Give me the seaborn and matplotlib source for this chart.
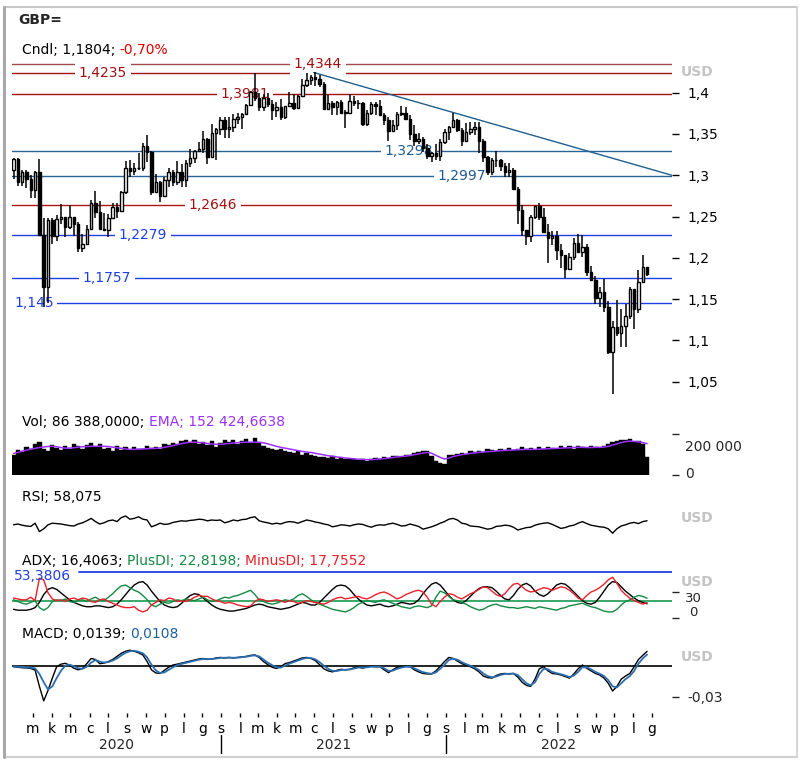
import numpy as np
import pandas as pd
import matplotlib
matplotlib.use("Agg")
import matplotlib.pyplot as plt
import matplotlib.dates as mdates
import matplotlib.transforms as mtransforms
from matplotlib.lines import Line2D
from matplotlib.ticker import FuncFormatter
import seaborn as sns

# ---------------- data (weekly candles, GBP/USD) ----------------
first_week = "2020-01-27"

opens = [1.3065,1.3195,1.2914,1.3045,1.2960,1.2820,1.3045,1.2280,1.1650,1.2460,
         1.2265,1.2475,1.2495,1.2370,1.2490,1.2405,1.2115,1.2165,1.2345,1.2670,
         1.2555,1.2345,1.2335,1.2485,1.2615,1.2565,1.2795,1.3085,1.3055,1.3090,
         1.3085,1.3350,1.3280,1.2795,1.2915,1.2745,1.2945,1.3045,1.2915,1.3035,
         1.2945,1.3150,1.3205,1.3300,1.3315,1.3440,1.3225,1.3515,1.3555,1.3670,
         1.3565,1.3590,1.3685,1.3700,1.3740,1.3850,1.4010,1.3930,1.3830,1.3930,
         1.3865,1.3785,1.3830,1.3700,1.3835,1.3880,1.3815,1.3965,1.4090,1.4155,
         1.4195,1.4160,1.4105,1.3805,1.3880,1.3825,1.3890,1.3760,1.3760,1.3905,
         1.3870,1.3870,1.3625,1.3760,1.3865,1.3840,1.3735,1.3675,1.3540,1.3615,
         1.3745,1.3755,1.3685,1.3500,1.3415,1.3440,1.3330,1.3235,1.3265,1.3235,
         1.3405,1.3530,1.3590,1.3675,1.3550,1.3410,1.3530,1.3565,1.3590,1.3410,
         1.3225,1.3035,1.3180,1.3180,1.3115,1.3035,1.3065,1.2835,1.2575,1.2335,
         1.2260,1.2490,1.2625,1.2490,1.2315,1.2245,1.2265,1.2095,1.2030,1.1870,
         1.2005,1.2175,1.2075,1.2130,1.1835,1.1735,1.1510,1.1590,1.1410,1.0855,
         1.1165,1.1090,1.1175,1.1300,1.1620,1.1380,1.1705,1.1890]
highs = [1.3210,1.3206,1.3070,1.3070,1.3000,1.3050,1.3200,1.2485,1.2485,1.2485,
         1.2520,1.2650,1.2500,1.2645,1.2500,1.2430,1.2295,1.2400,1.2700,1.2815,
         1.2690,1.2545,1.2535,1.2670,1.2670,1.2815,1.3170,1.3185,1.3145,1.3267,
         1.3395,1.3482,1.3290,1.3010,1.2935,1.2980,1.3085,1.3065,1.3175,1.3140,
         1.3180,1.3315,1.3310,1.3400,1.3540,1.3450,1.3625,1.3575,1.3705,1.3705,
         1.3710,1.3745,1.3760,1.3760,1.3865,1.4015,1.4240,1.4000,1.3990,1.4000,
         1.3915,1.3885,1.3920,1.3835,1.4010,1.3985,1.3970,1.4165,1.4235,1.4220,
         1.4250,1.4215,1.4135,1.3975,1.3900,1.3900,1.3910,1.3790,1.3985,1.3960,
         1.3910,1.3885,1.3785,1.3890,1.3890,1.3915,1.3750,1.3710,1.3675,1.3770,
         1.3835,1.3830,1.3730,1.3610,1.3515,1.3460,1.3375,1.3285,1.3375,1.3440,
         1.3560,1.3600,1.3750,1.3685,1.3575,1.3630,1.3640,1.3645,1.3645,1.3440,
         1.3235,1.3215,1.3300,1.3200,1.3150,1.3150,1.3090,1.2860,1.2640,1.2340,
         1.2525,1.2625,1.2665,1.2600,1.2405,1.2325,1.2330,1.2165,1.2030,1.2065,
         1.2245,1.2295,1.2275,1.2165,1.1900,1.1785,1.1645,1.1740,1.1475,1.1235,
         1.1495,1.1380,1.1440,1.1645,1.1625,1.1855,1.2030,1.1895]
lows = [1.2953,1.2872,1.2870,1.2848,1.2726,1.2725,1.2260,1.1410,1.1450,1.2165,
        1.2205,1.2405,1.2250,1.2355,1.2265,1.2075,1.2075,1.2160,1.2340,1.2480,
        1.2335,1.2330,1.2250,1.2480,1.2480,1.2560,1.2770,1.2980,1.3000,1.3060,
        1.3050,1.3165,1.2760,1.2790,1.2675,1.2740,1.2860,1.2865,1.2880,1.2855,
        1.2855,1.3105,1.3145,1.3280,1.3265,1.3135,1.3220,1.3190,1.3485,1.3450,
        1.3450,1.3520,1.3625,1.3565,1.3735,1.3840,1.3900,1.3780,1.3775,1.3825,
        1.3670,1.3700,1.3670,1.3680,1.3825,1.3795,1.3800,1.3960,1.4075,1.4090,
        1.4085,1.4075,1.3785,1.3790,1.3735,1.3730,1.3755,1.3570,1.3755,1.3840,
        1.3800,1.3600,1.3600,1.3725,1.3725,1.3735,1.3610,1.3410,1.3535,1.3545,
        1.3715,1.3665,1.3425,1.3355,1.3375,1.3280,1.3195,1.3160,1.3190,1.3170,
        1.3380,1.3430,1.3575,1.3520,1.3360,1.3400,1.3490,1.3485,1.3270,1.3160,
        1.3000,1.3000,1.3100,1.3050,1.2980,1.2975,1.2825,1.2410,1.2260,1.2155,
        1.2190,1.2475,1.2460,1.2310,1.1935,1.2160,1.1975,1.1875,1.1760,1.1865,
        1.1975,1.2065,1.2005,1.1785,1.1720,1.1445,1.1405,1.1350,1.0840,1.0350,
        1.1060,1.0925,1.0925,1.1255,1.1145,1.1335,1.1700,1.1780]
closes = [1.3195,1.2914,1.3045,1.2960,1.2820,1.3045,1.2280,1.1650,1.2460,1.2265,
          1.2475,1.2495,1.2370,1.2490,1.2405,1.2115,1.2165,1.2345,1.2670,1.2555,
          1.2345,1.2335,1.2485,1.2615,1.2565,1.2795,1.3085,1.3055,1.3090,1.3085,
          1.3350,1.3280,1.2795,1.2915,1.2745,1.2945,1.3045,1.2915,1.3035,1.2945,
          1.3150,1.3205,1.3300,1.3315,1.3440,1.3225,1.3515,1.3555,1.3670,1.3565,
          1.3590,1.3685,1.3700,1.3740,1.3850,1.4010,1.3930,1.3830,1.3930,1.3865,
          1.3785,1.3830,1.3700,1.3835,1.3880,1.3815,1.3965,1.4090,1.4155,1.4195,
          1.4160,1.4105,1.3805,1.3880,1.3825,1.3890,1.3760,1.3760,1.3905,1.3870,
          1.3870,1.3625,1.3760,1.3865,1.3840,1.3735,1.3675,1.3540,1.3615,1.3745,
          1.3755,1.3685,1.3500,1.3415,1.3440,1.3330,1.3235,1.3265,1.3235,1.3405,
          1.3530,1.3590,1.3675,1.3550,1.3410,1.3530,1.3565,1.3590,1.3410,1.3225,
          1.3035,1.3180,1.3180,1.3115,1.3035,1.3065,1.2835,1.2575,1.2335,1.2260,
          1.2490,1.2625,1.2490,1.2315,1.2245,1.2265,1.2095,1.2030,1.1870,1.2005,
          1.2175,1.2075,1.2130,1.1835,1.1735,1.1510,1.1590,1.1410,1.0855,1.1165,
          1.1090,1.1175,1.1300,1.1620,1.1380,1.1705,1.1890,1.1804]

vol_k = [98,120,112,135,128,150,160,125,118,145,
         130,122,140,128,150,142,125,148,155,135,
         150,128,132,118,140,122,135,120,138,128,
         125,140,132,138,128,150,145,158,152,165,
         170,158,172,150,160,148,165,135,158,170,
         160,172,150,168,175,158,180,155,140,132,
         125,120,128,118,112,108,115,100,108,98,
         95,90,88,85,92,80,84,78,76,80,
         72,80,70,78,82,76,90,85,92,95,
         88,100,96,108,112,115,118,95,70,60,
         56,96,100,104,108,102,115,112,118,110,
         125,120,118,128,122,130,124,126,135,128,
         130,124,135,128,138,132,126,140,130,142,
         128,140,138,130,142,136,132,140,152,160,
         165,172,170,178,160,168,150,86]
ema_k = [105,110,116,121,126,130,134,137,139,140,
         138,134,131,131,133,136,138,139,140,140,
         140,140,139,136,133,130,127,125,125,126,
         127,128,129,130,132,135,139,143,148,153,
         157,160,160,159,157,154,151,150,150,152,
         154,156,158,159,160,160,160,160,157,152,
         146,140,135,131,127,123,119,115,112,110,
         106,102,98,94,91,88,86,83,81,79,
         77,76,75,75,76,78,80,82,85,88,
         90,92,95,99,103,107,110,106,96,86,
         78,82,90,95,99,102,105,108,110,112,
         114,115,117,119,120,121,122,123,124,125,
         125,125,126,127,128,129,130,131,132,133,
         134,135,135,134,134,135,135,136,140,146,
         152,158,163,165,164,162,158,153]

rsi = [48,50,47,45,44,52,31,38,48,52,
       51,50,48,46,45,50,53,58,64,56,
       50,53,58,60,56,66,70,62,64,68,
       62,60,43,47,52,49,50,54,56,58,
       57,59,60,62,61,58,60,59,60,53,
       56,60,58,61,62,66,68,58,55,53,
       50,52,50,54,56,55,52,56,60,58,
       55,53,50,48,43,45,48,47,45,48,
       50,49,45,42,46,48,47,50,52,49,
       45,46,50,47,44,37,40,43,47,52,
       56,62,64,60,52,50,45,44,43,40,
       37,39,44,45,47,46,42,35,38,41,
       42,47,50,52,53,49,44,39,41,45,
       47,52,56,51,47,45,43,42,38,27,
       38,45,48,52,54,51,56,58.075]

adx = [10,9,9,9,10,12,18,27,33,35,
       33,29,25,21,18,16,14,13,13,14,
       14,13,12,13,16,21,27,33,38,41,
       42,38,31,25,19,15,13,12,13,17,
       22,26,28,27,23,19,15,12,10,9,
       8,8,9,10,11,13,15,16,15,13,
       12,11,10,11,12,14,16,18,17,15,
       15,18,23,28,33,37,38,37,33,27,
       22,18,15,14,15,16,14,13,14,16,
       18,17,16,17,21,28,34,39,41,38,
       32,26,21,18,17,20,25,30,34,36,
       36,35,31,26,22,21,26,33,38,40,
       37,31,27,25,28,33,38,40,39,35,
       30,25,20,17,16,18,24,31,38,42,
       41,36,31,27,23,20,18,16.4063]
plus_di = [21,19,17,16,18,20,12,9,12,19,
           21,20,22,19,18,20,21,19,22,24,
           21,20,24,28,33,37,38,35,32,30,
           26,21,15,13,16,18,17,19,21,20,
           22,21,20,22,24,21,19,20,22,24,
           23,25,26,28,30,32,27,21,19,17,
           16,17,19,21,20,22,26,28,25,21,
           18,16,14,12,10,9,8,7,9,12,
           16,18,20,19,18,20,21,19,17,15,
           13,12,11,13,14,13,12,14,24,31,
           29,25,21,20,18,16,13,11,9,10,
           13,15,16,14,13,12,12,11,12,13,
           12,11,13,12,11,10,9,11,12,14,
           15,16,17,15,13,12,10,8,7,7,
           10,15,19,21,24,26,25,22.8198]
minus_di = [23,22,21,21,24,20,46,44,29,22,
            20,21,19,22,23,21,23,22,19,18,
            21,22,19,17,15,13,12,12,13,9,
            7,9,15,18,21,20,23,22,19,20,
            19,21,24,26,25,25,22,20,19,17,
            18,17,15,14,13,14,19,22,21,19,
            20,21,20,18,20,19,17,18,20,19,
            18,17,16,18,21,23,24,22,23,24,
            25,23,22,24,27,29,30,28,25,22,
            24,27,29,31,32,30,24,16,13,19,
            24,28,27,24,22,25,28,30,33,36,
            35,31,27,25,28,34,39,40,36,32,
            30,31,33,35,34,32,34,36,35,32,
            28,23,21,26,30,32,35,39,44,47,
            40,32,27,23,20,18,16,17.7552]
adx_max_level = 53.3806
adx_base_level = 20

macd = [-0.0010,-0.0015,-0.0020,-0.0022,-0.0027,-0.0042,-0.0200,-0.0340,-0.0240,-0.0120,
        -0.0010,0.0015,0.0023,0.0005,-0.0025,-0.0040,-0.0027,0.0020,0.0070,0.0060,
        0.0020,0.0025,0.0040,0.0060,0.0090,0.0120,0.0140,0.0150,0.0140,0.0125,
        0.0104,0.0040,-0.0040,-0.0070,-0.0075,-0.0045,-0.0015,0.0007,0.0015,0.0025,
        0.0035,0.0045,0.0055,0.0065,0.0070,0.0060,0.0065,0.0075,0.0080,0.0075,
        0.0080,0.0075,0.0080,0.0085,0.0090,0.0100,0.0104,0.0080,0.0040,0.0010,
        -0.0015,-0.0027,-0.0010,0.0020,0.0030,0.0045,0.0060,0.0075,0.0080,0.0070,
        0.0050,0.0010,-0.0030,-0.0050,-0.0060,-0.0045,-0.0035,-0.0040,-0.0035,-0.0020,
        -0.0010,-0.0025,-0.0010,-0.0005,-0.0010,-0.0010,-0.0040,-0.0067,-0.0040,-0.0015,
        -0.0010,-0.0005,-0.0010,-0.0040,-0.0060,-0.0075,-0.0080,-0.0080,-0.0050,-0.0005,
        0.0040,0.0080,0.0070,0.0045,0.0020,0.0005,-0.0010,-0.0030,-0.0060,-0.0100,
        -0.0115,-0.0120,-0.0095,-0.0080,-0.0075,-0.0080,-0.0075,-0.0110,-0.0160,-0.0190,
        -0.0200,-0.0130,-0.0030,-0.0010,-0.0050,-0.0075,-0.0080,-0.0090,-0.0105,-0.0120,
        -0.0080,-0.0030,0.0007,-0.0025,-0.0050,-0.0075,-0.0090,-0.0120,-0.0170,-0.0245,
        -0.0200,-0.0130,-0.0100,-0.0075,-0.0010,0.0060,0.0100,0.0139]
macd_signal = [-0.0008,-0.0010,-0.0013,-0.0016,-0.0019,-0.0025,-0.0080,-0.0160,-0.0230,-0.0200,
               -0.0120,-0.0050,0.0000,0.0010,-0.0005,-0.0025,-0.0030,-0.0010,0.0030,0.0055,
               0.0040,0.0030,0.0035,0.0050,0.0070,0.0100,0.0125,0.0140,0.0145,0.0135,
               0.0120,0.0080,0.0010,-0.0045,-0.0070,-0.0065,-0.0040,-0.0015,0.0005,0.0018,
               0.0028,0.0038,0.0048,0.0058,0.0065,0.0065,0.0063,0.0070,0.0076,0.0077,
               0.0078,0.0077,0.0078,0.0082,0.0087,0.0095,0.0100,0.0090,0.0060,0.0030,
               0.0005,-0.0015,-0.0018,0.0000,0.0020,0.0035,0.0050,0.0065,0.0075,0.0074,
               0.0062,0.0035,0.0000,-0.0030,-0.0050,-0.0052,-0.0042,-0.0040,-0.0037,-0.0028,
               -0.0018,-0.0020,-0.0015,-0.0010,-0.0010,-0.0010,-0.0025,-0.0050,-0.0048,-0.0030,
               -0.0018,-0.0010,-0.0010,-0.0025,-0.0045,-0.0062,-0.0072,-0.0078,-0.0065,-0.0030,
               0.0010,0.0055,0.0068,0.0058,0.0035,0.0015,0.0000,-0.0018,-0.0042,-0.0075,
               -0.0100,-0.0112,-0.0105,-0.0090,-0.0080,-0.0078,-0.0076,-0.0090,-0.0130,-0.0170,
               -0.0190,-0.0160,-0.0080,-0.0030,-0.0035,-0.0060,-0.0072,-0.0082,-0.0095,-0.0110,
               -0.0095,-0.0060,-0.0015,-0.0015,-0.0035,-0.0060,-0.0078,-0.0100,-0.0140,-0.0200,
               -0.0210,-0.0170,-0.0130,-0.0100,-0.0050,0.0020,0.0070,0.0108]

levels = [1.4344, 1.4235, 1.3981, 1.3298, 1.2997, 1.2646, 1.2279, 1.1757, 1.145]
level_labels = ["1,4344", "1,4235", "1,3981", "1,3298", "1,2997", "1,2646", "1,2279", "1,1757", "1,145"]
trend_start = ("2021-05-31", 1.4245)
trend_end_value = 1.30

price_ticks = [1.05, 1.1, 1.15, 1.2, 1.25, 1.3, 1.35, 1.4]
month_letters = ["s", "l", "m", "k", "m", "c", "l", "s", "w", "p", "l", "g"]
years = ["2020", "2021", "2022"]

header_candle = [("Cndl; 1,1804;", "black"), ("-0,70%", "#e00000")]
header_vol = [("Vol; 86 388,0000;", "black"), ("EMA; 152 424,6638", "#9b30ff")]
header_rsi = [("RSI; 58,075", "black")]
header_adx = [("ADX; 16,4063;", "black"), ("PlusDI; 22,8198;", "#138a43"), ("MinusDI; 17,7552", "#e8202a")]
header_macd = [("MACD; 0,0139;", "black"), ("0,0108", "#1f5f9f")]

# ---------------- figure ----------------
sns.set_style("white")
plt.rcParams["font.family"] = ["DejaVu Sans"]

W, H = 800, 763
fig = plt.figure(figsize=(W / 100, H / 100), dpi=100)
fig.patch.set_facecolor("white")

X0 = pd.Timestamp("2020-01-27")
X1 = pd.Timestamp("2023-01-03")
PX_DAY = 660 / (X1 - X0).days


def px2num(px):
    return mdates.date2num((X0 + pd.Timedelta(days=(px - 12) / PX_DAY)).to_pydatetime())


XL = (mdates.date2num(X0.to_pydatetime()), mdates.date2num(X1.to_pydatetime()))


def add_ax(x0, y0, x1, y1):
    ax = fig.add_axes([x0 / W, 1 - y1 / H, (x1 - x0) / W, (y1 - y0) / H])
    ax.set_facecolor("none")
    for s in ax.spines.values():
        s.set_visible(False)
    ax.set_xlim(*XL)
    return ax


def ftext(x, y, s, **kw):
    return fig.text(x / W, 1 - y / H, s, **kw)


renderer = fig.canvas.get_renderer()


def pieces(x_px, y_px, parts, size=10):
    probe1 = fig.text(0, 0, "a a", fontsize=size)
    probe2 = fig.text(0, 0, "aa", fontsize=size)
    sp = probe1.get_window_extent(renderer).width - probe2.get_window_extent(renderer).width
    probe1.remove(); probe2.remove()
    x = x_px
    for s, c in parts:
        t = ftext(x, y_px, s, color=c, fontsize=size, ha="left", va="center")
        x += t.get_window_extent(renderer).width + sp


def usd(y):
    ftext(681, y, "USD", color="#c4c4c4", fontsize=10, fontweight="bold", ha="left", va="center")


dates = pd.date_range(first_week, periods=len(closes), freq="7D") + pd.Timedelta(hours=60)
xd = mdates.date2num(dates.to_pydatetime())
o, hi, lo, c = (np.array(a, dtype=float) for a in (opens, highs, lows, closes))

# ---- price panel ----
ax_p = add_ax(12, 58, 672, 402)
ax_p.set_ylim(1.02554, 1.44201)
lvl_line_col = ["#a34a4a", "#a01010", "#a01010", "#2a6496", "#2a6496", "#b01515", "#1e3ee6", "#1e3ee6", "#1e3ee6"]
lvl_text_col = ["#a01010", "#a01010", "#a01010", "#1f5a8f", "#1f5a8f", "#a01010", "#1e3ee6", "#1e3ee6", "#1e3ee6"]
lvl_label_px = [318, 103, 245, 409, 462, 213, 143, 107, 14]
lvl_label_ha = ["center"] * 8 + ["left"]
for lv, lab, lc, tc, lx, ha in zip(levels, level_labels, lvl_line_col, lvl_text_col, lvl_label_px, lvl_label_ha):
    ax_p.axhline(lv, color=lc, lw=1.0, zorder=1)
    ax_p.text(px2num(lx), lv, lab, color=tc, fontsize=10, ha=ha, va="center", zorder=2,
              bbox=dict(facecolor="white", edgecolor="none", pad=2.5))
ax_p.plot([mdates.date2num(pd.Timestamp(trend_start[0]).to_pydatetime()), XL[1]],
          [trend_start[1], trend_end_value], color="#1f5f8f", lw=1.0, zorder=2.5)

ax_p.vlines(xd, lo, hi, color="black", lw=1.1, zorder=3)
up = c >= o
ax_p.bar(xd, np.maximum(np.abs(c - o), 0.0006), bottom=np.minimum(o, c), width=4.0,
         color=np.where(up, "white", "black"), edgecolor="black", linewidth=1.0, zorder=4)

ax_p.yaxis.tick_right()
ax_p.set_yticks(price_ticks)
ax_p.yaxis.set_major_formatter(FuncFormatter(lambda v, p: f"{v:g}".replace(".", ",")))
ax_p.tick_params(axis="y", right=True, left=False, length=5, width=1, pad=6, labelsize=10, colors="black")
ax_p.set_xticks([])
usd(72)

# ---- volume panel ----
ax_v = add_ax(12, 428, 672, 475)
ax_v.bar(xd, vol_k, width=7, color="black", edgecolor="black", linewidth=0.3, zorder=2)
sns.lineplot(x=xd, y=ema_k, ax=ax_v, color="#9b30ff", linewidth=1.1, zorder=3)
ax_v.set_ylim(0, 229.3)
ax_v.set_xlim(*XL)
ax_v.yaxis.tick_right()
ax_v.set_yticks([0, 200])
ax_v.set_yticklabels(["", ""])
ax_v.tick_params(axis="y", right=True, left=False, length=5, width=1)
ax_v.set_xticks([])
ax_v.set_xlabel(""); ax_v.set_ylabel("")
ftext(685, 447, "200 000", fontsize=10, ha="left", va="center")
ftext(685, 474, "0", fontsize=10, ha="left", va="center")

# ---- RSI panel ----
ax_r = add_ax(12, 504, 672, 544)
sns.lineplot(x=xd, y=rsi, ax=ax_r, color="black", linewidth=1.0)
ax_r.set_ylim(0, 100)
ax_r.set_xlim(*XL)
ax_r.set_xticks([]); ax_r.set_yticks([])
ax_r.set_xlabel(""); ax_r.set_ylabel("")
usd(518)

# ---- ADX panel ----
ax_a = add_ax(12, 566, 672, 618)
ax_a.axhline(adx_base_level, color="#1a9a50", lw=1.2, zorder=1)
ax_a.axhline(adx_max_level, xmin=(79 - 12) / 660, xmax=1, color="#2040e0", lw=1.3, zorder=1)
sns.lineplot(x=xd, y=adx, ax=ax_a, color="black", linewidth=1.0)
sns.lineplot(x=xd, y=plus_di, ax=ax_a, color="#138a43", linewidth=1.0)
sns.lineplot(x=xd, y=minus_di, ax=ax_a, color="#e8202a", linewidth=1.0)
ax_a.set_ylim(0, 60)
ax_a.set_xlim(*XL)
ax_a.yaxis.tick_right()
ax_a.set_yticks([0, 30])
ax_a.set_yticklabels(["", ""])
ax_a.tick_params(axis="y", right=True, left=False, length=5, width=1)
ax_a.set_xticks([])
ax_a.set_xlabel(""); ax_a.set_ylabel("")
ftext(14, 576, f"{adx_max_level:.4f}".replace(".", ","), color="#2040e0", fontsize=10, ha="left", va="center")
ftext(693, 598, "30", fontsize=9.5, ha="center", va="center")
ftext(693, 613, "0", fontsize=9.5, ha="center", va="center")
usd(582)

# ---- MACD panel ----
ax_m = add_ax(12, 642, 672, 705)
ax_m.axhline(0, color="black", lw=1.2, zorder=1)
sns.lineplot(x=xd, y=macd, ax=ax_m, color="black", linewidth=1.0)
sns.lineplot(x=xd, y=macd_signal, ax=ax_m, color="#2a6db0", linewidth=1.3)
ax_m.set_ylim(-0.03804, 0.02294)
ax_m.set_xlim(*XL)
ax_m.yaxis.tick_right()
ax_m.set_yticks([-0.03])
ax_m.yaxis.set_major_formatter(FuncFormatter(lambda v, p: f"{v:.2f}".replace(".", ",")))
ax_m.tick_params(axis="y", right=True, left=False, length=5, width=1, pad=6, labelsize=10)
ax_m.set_xlabel(""); ax_m.set_ylabel("")
usd(657)

month_ticks = pd.date_range("2020-03-01", "2022-12-01", freq="MS")
ax_m.set_xticks(mdates.date2num(month_ticks.to_pydatetime()))
ax_m.set_xticklabels([month_letters[d.month - 1] for d in month_ticks])
ax_m.spines["bottom"].set_position(("outward", 6))
ax_m.tick_params(axis="x", bottom=True, length=3, width=1, pad=3, labelsize=10, colors="black")

trans = mtransforms.blended_transform_factory(ax_m.transData, fig.transFigure)
year_pos = ["2020-07-15", "2021-07-02", "2022-07-02"]
for ylab, yp in zip(years, year_pos):
    ax_m.text(mdates.date2num(pd.Timestamp(yp).to_pydatetime()), 1 - 745 / H, ylab,
              transform=trans, ha="center", va="center", fontsize=10)
for sep in ["2021-01-01", "2022-01-01"]:
    xs = mdates.date2num(pd.Timestamp(sep).to_pydatetime())
    ax_m.plot([xs, xs], [1 - 735 / H, 1 - 753 / H], transform=trans, clip_on=False, color="black", lw=1)

# ---- headers ----
ftext(18, 20, "GBP=", fontsize=10, fontweight="bold", ha="left", va="center")
pieces(22, 50, header_candle)
pieces(22, 422, header_vol)
pieces(22, 497, header_rsi)
pieces(22, 561, header_adx)
pieces(22, 634, header_macd)

# ---- frame ----
fig.add_artist(Line2D([4 / W, 797 / W], [1 - 7 / H, 1 - 7 / H], transform=fig.transFigure, color="#c8c8c8", lw=1.5))
fig.add_artist(Line2D([797 / W, 797 / W], [1 - 7 / H, 1 - 757 / H], transform=fig.transFigure, color="#d0d0d0", lw=1.2))
fig.add_artist(Line2D([4 / W, 797 / W], [1 - 757 / H, 1 - 757 / H], transform=fig.transFigure, color="#d0d0d0", lw=1.5))
fig.add_artist(Line2D([4 / W, 4 / W], [1 - 7 / H, 1 - 757 / H], transform=fig.transFigure, color="#a8a8a8", lw=2.2))

fig.savefig("out.png", dpi=100, facecolor="white")
